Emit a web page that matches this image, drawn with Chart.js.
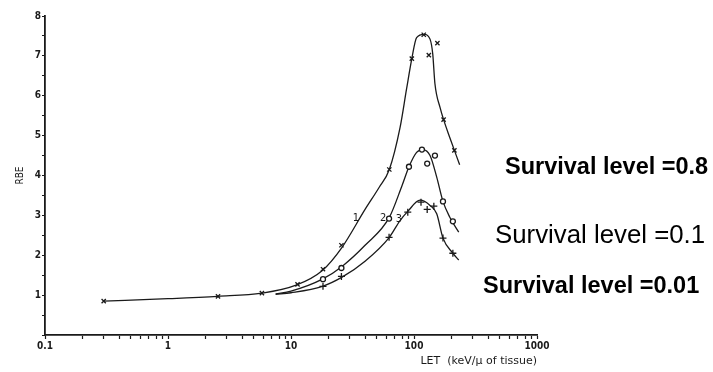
<!DOCTYPE html>
<html>
<head>
<meta charset="utf-8">
<script src="https://cdn.jsdelivr.net/npm/chart.js@4/dist/chart.umd.min.js"></script>
<style>
  html, body { margin: 0; padding: 0; background: #fff; }
  #wrap { position: relative; width: 713px; height: 372px; }
</style>
</head>
<body>
<div id="wrap"><canvas id="c" width="713" height="372"></canvas></div>
<script>
// ---- measured markers ----
const c1X = [0.30, 2.55, 5.8, 11.3, 18.2, 25.7, 63, 96, 120, 132, 155, 174, 213];
const c1Y = [0.85, 0.97, 1.05, 1.27, 1.65, 2.25, 4.15, 6.93, 7.53, 7.02, 7.32, 5.4, 4.63];
const c2X = [18.2, 25.7, 62.7, 91, 116, 128, 148, 172, 207];
const c2Y = [1.4, 1.68, 2.92, 4.22, 4.65, 4.3, 4.5, 3.35, 2.85];
const c3X = [18.2, 25.7, 62.7, 89, 114, 128, 145, 172, 207];
const c3Y = [1.22, 1.47, 2.45, 3.08, 3.33, 3.15, 3.23, 2.43, 2.05];

// ---- fitted curves ----
const fit1X = [0.3, 1, 2.55, 5.8, 11, 18, 26, 40, 52, 63, 77, 87, 96, 105, 121, 135, 142, 148, 163, 174, 195, 235];
const fit1Y = [0.85, 0.91, 0.97, 1.05, 1.25, 1.62, 2.2, 3.15, 3.7, 4.15, 5.2, 6.17, 6.93, 7.46, 7.54, 7.42, 7.05, 6.3, 5.7, 5.4, 4.96, 4.27];
const fit2X = [7.5, 10, 18, 26, 40, 63, 80, 91, 105, 118, 135, 153, 172, 195, 231];
const fit2Y = [1.03, 1.1, 1.4, 1.72, 2.25, 2.95, 3.75, 4.22, 4.58, 4.65, 4.5, 3.96, 3.35, 2.96, 2.58];
const fit3X = [7.5, 10, 18, 26, 40, 63, 77, 89, 112, 135, 153, 172, 207, 231];
const fit3Y = [1.02, 1.06, 1.22, 1.45, 1.85, 2.45, 2.87, 3.1, 3.38, 3.25, 3.04, 2.43, 2.05, 1.88];

// ---- curve number labels (data coordinates) ----
const curveLabels = ['1', '2', '3'];
const curveLabelX = [33.7, 56, 75.5];
const curveLabelY = [2.93, 2.93, 2.9];

// ---- ticks ----
const xMajorTicks = [0.1, 1, 10, 100, 1000];
const xTickLabels = ['0.1', '1', '10', '100', '1000'];
const xMinorMultipliers = [2, 3, 4, 5, 6, 7, 8, 9];
const yTicks = [0, 0.5, 1, 1.5, 2, 2.5, 3, 3.5, 4, 4.5, 5, 5.5, 6, 6.5, 7, 7.5, 8];
const yTickLabels = ['', '', '1', '', '2', '', '3', '', '4', '', '5', '', '6', '', '7', '', '8'];

// ---- side legend texts ----
const sideTexts = ['Survival level =0.8', 'Survival level =0.1', 'Survival level =0.01'];

const xTicksAll = [];
xMajorTicks.forEach((d, i) => {
  xTicksAll.push(d);
  if (i < xMajorTicks.length - 1) xMinorMultipliers.forEach(m => xTicksAll.push(+(d * m).toPrecision(3)));
});

const pts = (xs, ys) => xs.map((x, i) => ({x, y: ys[i]}));
const ink = '#1a1a1a';

const lineDs = (xs, ys) => ({
  type: 'line', data: pts(xs, ys), borderColor: ink, borderWidth: 1.3,
  pointRadius: 0, fill: false, cubicInterpolationMode: 'monotone', order: 2
});
const markDs = (xs, ys, style, r) => ({
  type: 'scatter', data: pts(xs, ys), pointStyle: style, pointRadius: r,
  borderColor: ink, backgroundColor: '#fff', pointBorderWidth: 1.3, showLine: false, order: 1
});

const overlay = {
  id: 'overlay',
  afterDatasetsDraw(chart) {
    const ctx = chart.ctx, xs = chart.scales.x, ys = chart.scales.y;
    ctx.save();
    ctx.fillStyle = ink;
    ctx.font = '11px "DejaVu Sans Condensed", "DejaVu Sans", sans-serif';
    ctx.textAlign = 'center';
    ctx.textBaseline = 'middle';
    curveLabels.forEach((t, i) => ctx.fillText(t, xs.getPixelForValue(curveLabelX[i]), ys.getPixelForValue(curveLabelY[i])));
    ctx.textAlign = 'left';
    ctx.textBaseline = 'alphabetic';
    ctx.fillStyle = '#000';
    ctx.font = 'bold 23.5px "Liberation Sans", Arial, sans-serif';
    ctx.fillText(sideTexts[0], 505, 174);
    ctx.font = '25.8px "Liberation Sans", Arial, sans-serif';
    ctx.fillText(sideTexts[1], 495, 243);
    ctx.font = 'bold 23.5px "Liberation Sans", Arial, sans-serif';
    ctx.fillText(sideTexts[2], 483, 293);
    ctx.restore();
  }
};

const tickFont = {family: '"DejaVu Sans Condensed", "DejaVu Sans", sans-serif', size: 10, weight: 'bold'};

new Chart(document.getElementById('c'), {
  type: 'scatter',
  data: {
    datasets: [
      lineDs(fit1X, fit1Y), lineDs(fit2X, fit2Y), lineDs(fit3X, fit3Y),
      markDs(c1X, c1Y, 'crossRot', 3), markDs(c2X, c2Y, 'circle', 2.5), markDs(c3X, c3Y, 'cross', 3.5)
    ]
  },
  options: {
    responsive: false, animation: false, devicePixelRatio: 1,
    layout: {padding: {top: 16, right: 176, left: 0, bottom: 0}},
    plugins: {legend: {display: false}, tooltip: {enabled: false}},
    scales: {
      x: {
        type: 'logarithmic', min: 0.1, max: 1000,
        afterBuildTicks: a => { a.ticks = xTicksAll.map(v => ({value: v})); },
        afterFit: a => { a.height = 37; },
        ticks: {
          autoSkip: false, maxRotation: 0, padding: 1, color: ink, font: tickFont,
          callback: (v) => { const i = xMajorTicks.indexOf(v); return i >= 0 ? xTickLabels[i] : ''; }
        },
        grid: {display: true, drawOnChartArea: false, drawTicks: true, tickLength: 4, tickColor: ink, tickWidth: 1.2},
        border: {display: true, color: ink, width: 1.8},
        title: {display: true, text: 'LET  (keV/\u03bc of tissue)', align: 'end', color: ink,
                font: {family: '"DejaVu Sans", sans-serif', size: 11}, padding: {top: 0, bottom: 4}}
      },
      y: {
        min: 0, max: 8,
        afterBuildTicks: a => { a.ticks = yTicks.map(v => ({value: v})); },
        afterFit: a => { a.width = 45; },
        ticks: {
          autoSkip: false, padding: 1, color: ink, font: tickFont,
          callback: (v) => { const i = yTicks.indexOf(v); return i >= 0 ? yTickLabels[i] : ''; }
        },
        grid: {display: true, drawOnChartArea: false, drawTicks: true, tickLength: 3, tickColor: ink, tickWidth: 1.2},
        border: {display: true, color: ink, width: 1.8},
        title: {display: true, text: 'RBE', color: ink,
                font: {family: '"DejaVu Sans Condensed", "DejaVu Sans", sans-serif', size: 10}, padding: {top: 14, bottom: 0}}
      }
    }
  },
  plugins: [overlay]
});
</script>
</body>
</html>
